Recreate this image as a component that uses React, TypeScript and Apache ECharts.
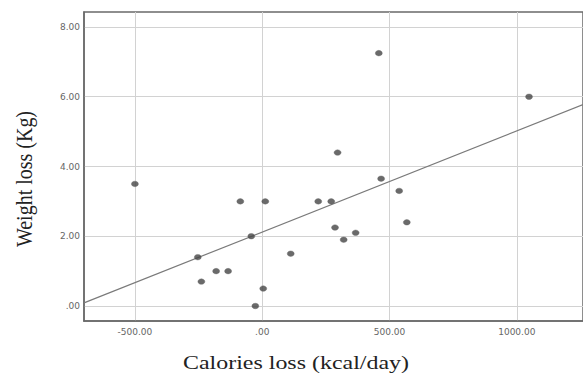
import React, { useEffect, useRef } from "react";
import * as echarts from "echarts";

// Calories loss (kcal/day) and Weight loss (Kg) per participant
const caloriesLoss = [-500, 458, 1048, 296, 467, 538, -86, 12, -43, -253, -239, -181, -134, 4, -27, 112, 220, 271, 286, 320, 367, 568];
const weightLoss = [3.5, 7.25, 6.0, 4.4, 3.65, 3.3, 3.0, 3.0, 2.0, 1.4, 0.7, 1.0, 1.0, 0.5, 0.0, 1.5, 3.0, 3.0, 2.25, 1.9, 2.1, 2.4];

// Fit line
const fitIntercept = 2.12;
const fitSlope = 0.0029;

// Axis ticks
const xTicks = [-500, 0, 500, 1000];
const yTicks = [0, 2, 4, 6, 8];
const X_MIN = -700;
const X_MAX = 1260;
const Y_MIN = -0.43;
const Y_MAX = 8.43;

const fmt = (v: number) => (v === 0 ? ".00" : v.toFixed(2));

export default function App() {
  const ref = useRef<HTMLDivElement>(null);
  useEffect(() => {
    if (!ref.current) return;
    const chart = echarts.init(ref.current, undefined, { renderer: "svg" });
    const points = caloriesLoss.map((x, i) => [x, weightLoss[i]]);
    const fit = [X_MIN, X_MAX].map((x) => [x, fitIntercept + fitSlope * x]);
    chart.setOption({
      animation: false,
      backgroundColor: "#ffffff",
      grid: {
        left: 84,
        top: 12,
        right: -2,
        bottom: 53,
        show: true,
        borderColor: "#6a6a6a",
        borderWidth: 1.5,
        backgroundColor: "transparent",
      },
      xAxis: {
        type: "value",
        min: X_MIN,
        max: X_MAX,
        axisLine: { show: true, onZero: false, lineStyle: { color: "#6a6a6a", width: 1.5 } },
        axisTick: { show: false, customValues: xTicks },
        axisLabel: {
          customValues: xTicks,
          formatter: fmt,
          fontFamily: "DejaVu Sans",
          fontSize: 9,
          color: "#666",
          margin: 6,
        },
        splitLine: { show: true, lineStyle: { color: "#d2d2d2", width: 1 } },
      },
      yAxis: {
        type: "value",
        min: Y_MIN,
        max: Y_MAX,
        axisLine: { show: true, onZero: false, lineStyle: { color: "#6a6a6a", width: 1.5 } },
        axisTick: { show: false, customValues: yTicks },
        axisLabel: {
          customValues: yTicks,
          formatter: fmt,
          fontFamily: "DejaVu Sans",
          fontSize: 9,
          color: "#666",
          margin: 4,
        },
        splitLine: { show: true, lineStyle: { color: "#d2d2d2", width: 1 } },
      },
      series: [
        {
          type: "line",
          data: fit,
          symbol: "none",
          lineStyle: { color: "#7a7a7a", width: 1.2 },
          silent: true,
          z: 2,
        },
        {
          type: "scatter",
          data: points,
          symbol: "circle",
          symbolSize: [7, 5.5],
          itemStyle: { color: "#454545", borderColor: "#666", borderWidth: 0.5 },
          z: 3,
        },
      ],
      graphic: [
        {
          type: "text",
          x: 296,
          y: 363,
          scaleX: 1.26,
          style: {
            text: "Calories loss (kcal/day)",
            fontFamily: "Liberation Serif",
            fontSize: 19,
            fill: "#222",
            textAlign: "center",
            textVerticalAlign: "middle",
          },
        },
        {
          type: "text",
          x: 24,
          y: 179,
          rotation: Math.PI / 2,
          scaleY: 1.2,
          style: {
            text: "Weight loss (Kg)",
            fontFamily: "Liberation Serif",
            fontSize: 20,
            fill: "#222",
            textAlign: "center",
            textVerticalAlign: "middle",
          },
        },
      ],
    });
    return () => chart.dispose();
  }, []);
  return (
    <div
      ref={ref}
      style={{ position: "fixed", left: 0, top: 0, width: 583, height: 374, background: "#fff" }}
    />
  );
}
